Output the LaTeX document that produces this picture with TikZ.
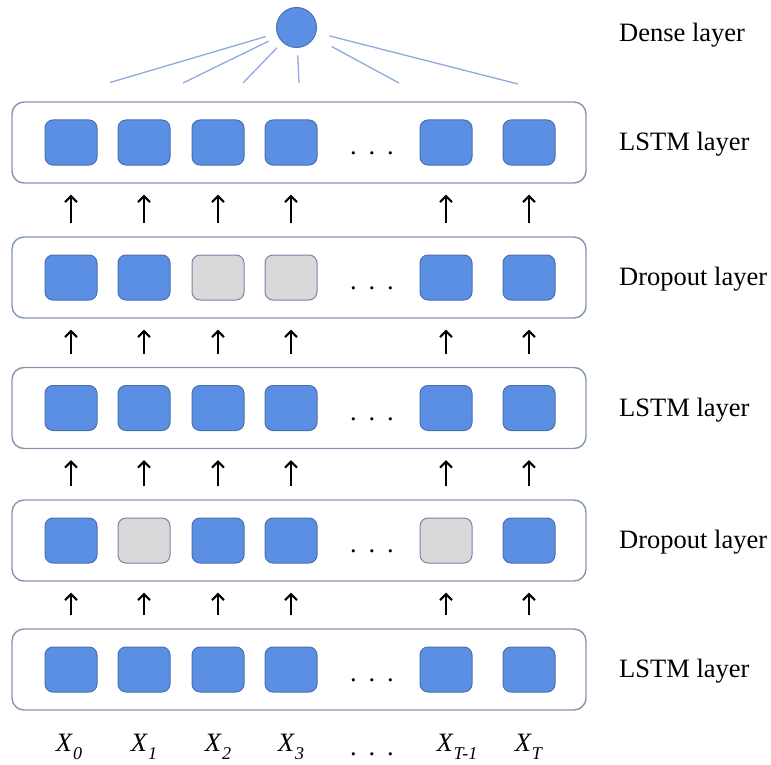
\documentclass[tikz,border=0pt]{standalone}
\usepackage{fontspec}
\setmainfont{Liberation Serif}
\usetikzlibrary{arrows.meta,calc}

\definecolor{cellblue}{HTML}{5B8FE3}
\definecolor{cellblueedge}{HTML}{4A70AE}
\definecolor{cellgray}{HTML}{D9D9D9}
\definecolor{cellgrayedge}{HTML}{7585A8}
\definecolor{layeredge}{HTML}{8497B0}
\definecolor{denseline}{HTML}{8FAADC}

\newcommand{\xlab}[1]{\textit{X}\raisebox{-0.3em}{\fontsize{18}{18}\selectfont\textit{#1}}}

\begin{document}
\begin{tikzpicture}[x=1pt,y=-1pt,
  layerbox/.style={draw=layeredge, line width=1.4pt, rounded corners=12pt,
    minimum width=574pt, minimum height=81pt, inner sep=0pt},
  oncell/.style={draw=cellblueedge, fill=cellblue, line width=1pt, rounded corners=8pt,
    minimum width=52pt, minimum height=45pt, inner sep=0pt},
  offcell/.style={draw=cellgrayedge, fill=cellgray, line width=1pt, rounded corners=8pt,
    minimum width=52pt, minimum height=45pt, inner sep=0pt},
  layerlabel/.style={anchor=west, font=\fontsize{26.5}{30}\selectfont, inner sep=0pt},
  dotslabel/.style={anchor=base, font=\fontsize{26.5}{30}\selectfont, inner sep=0pt},
  uparrow/.style={-{Straight Barb[length=6pt,width=12pt]}, line width=2pt, black},
  link/.style={draw=denseline, line width=1.3pt},
  xlabel/.style={font=\fontsize{26.5}{30}\selectfont, inner sep=0pt}
]
\useasboundingbox (0,0) rectangle (771,765);

% dense unit
\node[draw=cellblueedge, fill=cellblue, line width=1pt, circle,
  minimum size=40pt, inner sep=0pt] (dense) at (296.5,27.5) {};
\node[layerlabel] (lbl0) at (619,35) {Dense layer};

% layers, top to bottom
\foreach \name/\y/\lab in {L5/142.5/LSTM layer, L4/277.5/Dropout layer,
    L3/408/LSTM layer, L2/540.5/Dropout layer, L1/669.5/LSTM layer}{
  \node[layerbox] (\name) at (299,\y) {};
  \node[layerlabel] (\name lbl) at (619,\y+2) {\lab};
  \node[dotslabel] (\name dots) at (372,\y+12) {.\hspace{0.45em}.\hspace{0.45em}.};
}

% cells: 1 = kept (blue), 0 = dropped (gray)
\foreach \name/\y/\states in {L5/142.5/{1,1,1,1,1,1}, L4/277.5/{1,1,0,0,1,1},
    L3/408/{1,1,1,1,1,1}, L2/540.5/{1,0,1,1,0,1}, L1/669.5/{1,1,1,1,1,1}}{
  \foreach \x [count=\i] in {71,144,218,291,446,529}{
    \pgfmathtruncatemacro{\st}{{\states}[\i-1]}
    \ifnum\st=1
      \node[oncell] (\name c\i) at (\x,\y) {};
    \else
      \node[offcell] (\name c\i) at (\x,\y) {};
    \fi
  }
}

% arrows in the gaps between consecutive layers
\foreach \lo/\hi in {L1/L2, L2/L3, L3/L4, L4/L5}{
  \foreach \i in {1,...,6}{
    \coordinate (a\lo\i) at (\lo.north -| \lo c\i);
    \coordinate (b\lo\i) at (\hi.south -| \lo c\i);
    \draw[uparrow] ([yshift=13pt]a\lo\i) -- ([yshift=-11pt]b\lo\i);
  }
}

% links from the top LSTM layer into the dense unit
\coordinate (d1) at (110,82.5);
\coordinate (d2) at (183,83);
\coordinate (d3) at (243,83);
\coordinate (d4) at (299,83);
\coordinate (d5) at (399,83);
\coordinate (d6) at (518,84);
\foreach \c/\gap in {d1/32, d2/31, d3/28, d4/28, d5/40, d6/34}{
  \draw[link, shorten <=\gap pt] (dense.center) -- (\c);
}

% input labels
\node[xlabel] (x0) at (69,747) {\xlab{0}};
\node[xlabel] (x1) at (144,747) {\xlab{1}};
\node[xlabel] (x2) at (218,747) {\xlab{2}};
\node[xlabel] (x3) at (291,747) {\xlab{3}};
\node[dotslabel] (xdots) at (372,755) {.\hspace{0.45em}.\hspace{0.45em}.};
\node[xlabel] (xt1) at (457,747) {\xlab{T-1}};
\node[xlabel] (xt) at (529,747) {\xlab{T}};
\end{tikzpicture}
\end{document}
